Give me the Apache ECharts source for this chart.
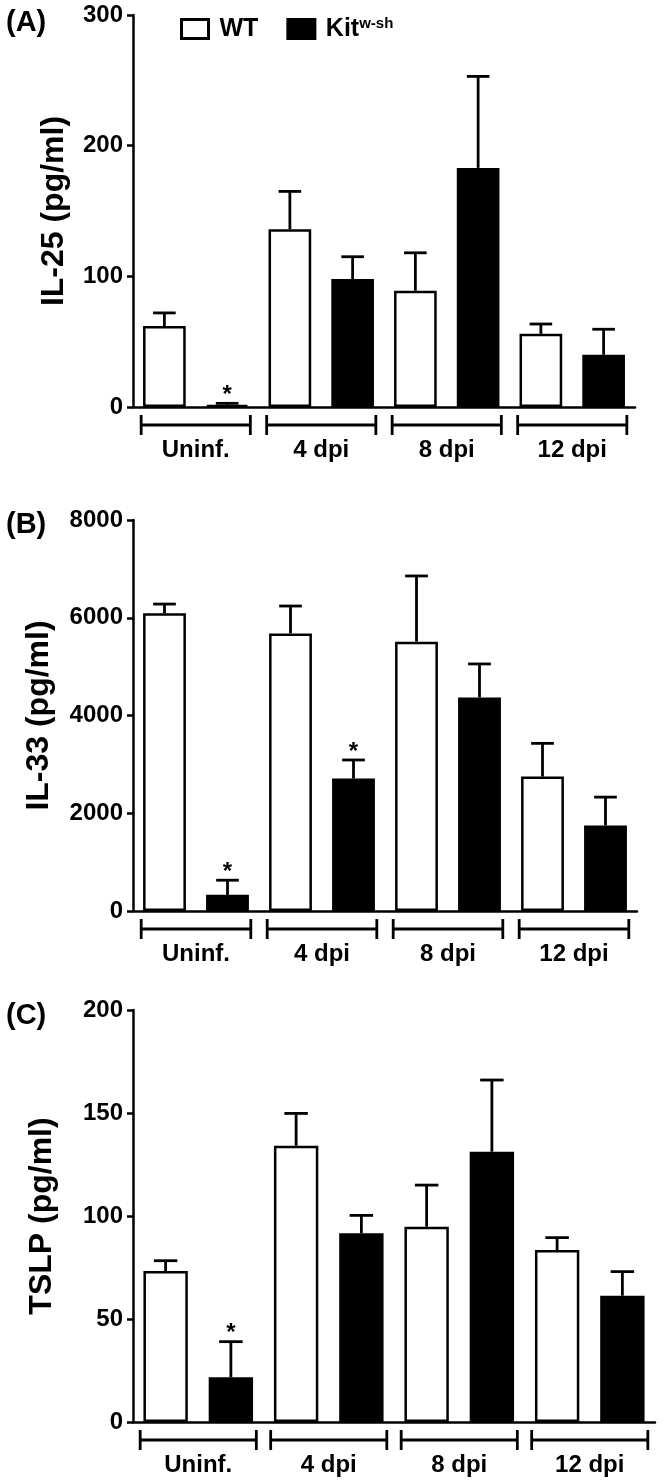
<!DOCTYPE html>
<html>
<head>
<meta charset="utf-8">
<script src="https://cdn.jsdelivr.net/npm/echarts@6/dist/echarts.min.js"></script>
<style>
  html, body { margin: 0; padding: 0; background: #fff; }
  #chart { width: 666px; height: 1484px; }
</style>
</head>
<body>
<div id="chart"></div>
<script>
// ---------- data ----------
const groups = ['Uninf.', '4 dpi', '8 dpi', '12 dpi'];
const seriesNames = ['WT', 'Kit'];

// (A) IL-25 (pg/ml)
const il25Ticks = [0, 300, 100];
const il25WT = [62, 136, 89, 56];
const il25WTErr = [10, 29, 29, 7.5];
const il25Kit = [1.5, 98, 183, 40];
const il25KitErr = [1.3, 17, 70, 19.5];
const il25KitSig = [1, 0, 0, 0];

// (B) IL-33 (pg/ml)
const il33Ticks = [0, 8000, 2000];
const il33WT = [6090, 5680, 5510, 2750];
const il33WTErr = [190, 560, 1345, 680];
const il33Kit = [330, 2710, 4370, 1750];
const il33KitErr = [300, 380, 685, 580];
const il33KitSig = [1, 1, 0, 0];

// (C) TSLP (pg/ml)
const tslpTicks = [0, 200, 50];
const tslpWT = [73.3, 134.1, 94.8, 83.5];
const tslpWTErr = [5, 15.7, 20.2, 6];
const tslpKit = [21.7, 91.6, 131.2, 61.3];
const tslpKitErr = [17.3, 8.7, 34.8, 11.7];
const tslpKitSig = [1, 0, 0, 0];

// ---------- build ----------
const FONT = '"Liberation Sans", Arial, sans-serif';
const slots = groups.flatMap(g => [g + ' ' + seriesNames[0], g + ' ' + seriesNames[1]]);

function slotData(vals, parity) {
  const out = [];
  vals.forEach(v => { if (parity === 0) { out.push(v, '-'); } else { out.push('-', v); } });
  return out;
}

const option = {
  animation: false,
  backgroundColor: '#fff',
  title: [],
  legend: {
    left: 175, top: 11,
    icon: 'rect',
    itemWidth: 27, itemHeight: 19, itemGap: 28,
    selectedMode: false,
    data: [
      { name: 'WT', itemStyle: { color: '#fff', borderColor: '#000', borderWidth: 3 } },
      { name: 'Kit', itemStyle: { color: '#000', borderColor: '#000', borderWidth: 3 } }
    ],
    formatter: n => n === 'Kit' ? '{b|Kit}{s|w-sh}' : '{b|WT}',
    textStyle: {
      rich: {
        b: { fontSize: 25, fontWeight: 'bold', fontFamily: FONT, color: '#000', lineHeight: 26, padding: [0, 0, 0, 6] },
        s: { fontSize: 15, fontWeight: 'bold', fontFamily: FONT, color: '#000', verticalAlign: 'top', lineHeight: 14 }
      }
    }
  },
  grid: [], xAxis: [], yAxis: [], series: []
};

function addPanel(idx, label, labelTop, top, height, width, yName, nameGap, ticks,
                  wt, wtErr, kit, kitErr, kitSig, brOff) {
  option.title.push({ text: label, left: 1, top: labelTop,
    textStyle: { fontSize: 29, fontWeight: 'bold', fontFamily: FONT, color: '#000' } });
  option.grid.push({ left: 133, top: top, height: height, width: width });
  option.xAxis.push({
    type: 'category', gridIndex: idx, data: slots,
    axisLine: { lineStyle: { color: '#000', width: 2.5 } },
    axisTick: { alignWithLabel: true, length: 6, lineStyle: { color: '#000', width: 2.5 } },
    axisLabel: { show: false }, splitLine: { show: false }
  });
  option.yAxis.push({
    type: 'value', gridIndex: idx, min: ticks[0], max: ticks[1], interval: ticks[2],
    name: yName, nameLocation: 'middle', nameGap: nameGap,
    nameTextStyle: { fontSize: 32, fontWeight: 'bold', fontFamily: FONT, color: '#000' },
    axisLine: { show: true, lineStyle: { color: '#000', width: 2.5 } },
    axisTick: { show: true, length: 6, lineStyle: { color: '#000', width: 2.5 } },
    axisLabel: { fontSize: 24, fontWeight: 'bold', fontFamily: FONT, color: '#000', margin: 10,
                 formatter: v => String(v) },
    splitLine: { show: false }
  });
  const barCommon = { type: 'bar', xAxisIndex: idx, yAxisIndex: idx, barWidth: '68%', barGap: '-100%' };
  option.series.push(Object.assign({}, barCommon, {
    name: seriesNames[0], data: slotData(wt, 0),
    itemStyle: { color: '#fff', borderColor: '#000', borderWidth: 2.5 }
  }));
  option.series.push(Object.assign({}, barCommon, {
    name: seriesNames[1], data: slotData(kit, 1),
    itemStyle: { color: '#000', borderColor: '#000', borderWidth: 2.5 }
  }));
  // error bars + significance stars
  const errData = [];
  groups.forEach((g, i) => {
    errData.push([2 * i, wt[i], wtErr[i], 0]);
    errData.push([2 * i + 1, kit[i], kitErr[i], kitSig[i]]);
  });
  option.series.push({
    type: 'custom', xAxisIndex: idx, yAxisIndex: idx, clip: false, silent: true,
    data: errData, encode: { x: 0, y: 1 },
    renderItem: (params, api) => {
      const k = api.value(0), v = api.value(1), e = api.value(2), s = api.value(3);
      const p0 = api.coord([k, v]);
      const p1 = api.coord([k, v + e]);
      const band = api.size([1, 0])[0];
      const hw = band * 0.18;
      const st = { stroke: '#000', lineWidth: 2.8 };
      const ch = [
        { type: 'line', shape: { x1: p0[0], y1: p0[1], x2: p1[0], y2: p1[1] }, style: st },
        { type: 'line', shape: { x1: p1[0] - hw, y1: p1[1], x2: p1[0] + hw, y2: p1[1] }, style: st }
      ];
      if (s) {
        ch.push({ type: 'text', style: { text: '*', x: p1[0], y: p1[1] - 8, align: 'center',
          verticalAlign: 'middle', fontSize: 24, fontWeight: 'bold', fontFamily: FONT, fill: '#000' } });
      }
      return { type: 'group', children: ch };
    }
  });
  // group brackets and labels
  option.series.push({
    type: 'custom', xAxisIndex: idx, yAxisIndex: idx, clip: false, silent: true,
    data: groups.map((g, i) => [2 * i, 0]), encode: { x: 0, y: 1 },
    renderItem: (params, api) => {
      const i = params.dataIndex;
      const a = api.coord([2 * i, 0]);
      const b = api.coord([2 * i + 1, 0]);
      const band = api.size([1, 0])[0];
      const x1 = a[0] - band * brOff, x2 = b[0] + band * brOff;
      const y = a[1] + 18;
      const st = { stroke: '#000', lineWidth: 2.8 };
      return { type: 'group', children: [
        { type: 'line', shape: { x1: x1, y1: y, x2: x2, y2: y }, style: st },
        { type: 'line', shape: { x1: x1, y1: y - 10, x2: x1, y2: y + 10 }, style: st },
        { type: 'line', shape: { x1: x2, y1: y - 10, x2: x2, y2: y + 10 }, style: st },
        { type: 'text', style: { text: groups[i], x: (x1 + x2) / 2, y: a[1] + 43, align: 'center',
          verticalAlign: 'middle', fontSize: 24, fontWeight: 'bold', fontFamily: FONT, fill: '#000' } }
      ]};
    }
  });
}

addPanel(0, '(A)', 3, 15, 392, 502, 'IL-25 (pg/ml)', 63, il25Ticks,
         il25WT, il25WTErr, il25Kit, il25KitErr, il25KitSig, 0.37);
addPanel(1, '(B)', 505, 520, 391, 504, 'IL-33 (pg/ml)', 78, il33Ticks,
         il33WT, il33WTErr, il33Kit, il33KitErr, il33KitSig, 0.37);
addPanel(2, '(C)', 996, 1010, 412, 522, 'TSLP (pg/ml)', 75, tslpTicks,
         tslpWT, tslpWTErr, tslpKit, tslpKitErr, tslpKitSig, 0.39);

const chart = echarts.init(document.getElementById('chart'), null, { renderer: 'canvas' });
chart.setOption(option);
</script>
</body>
</html>
